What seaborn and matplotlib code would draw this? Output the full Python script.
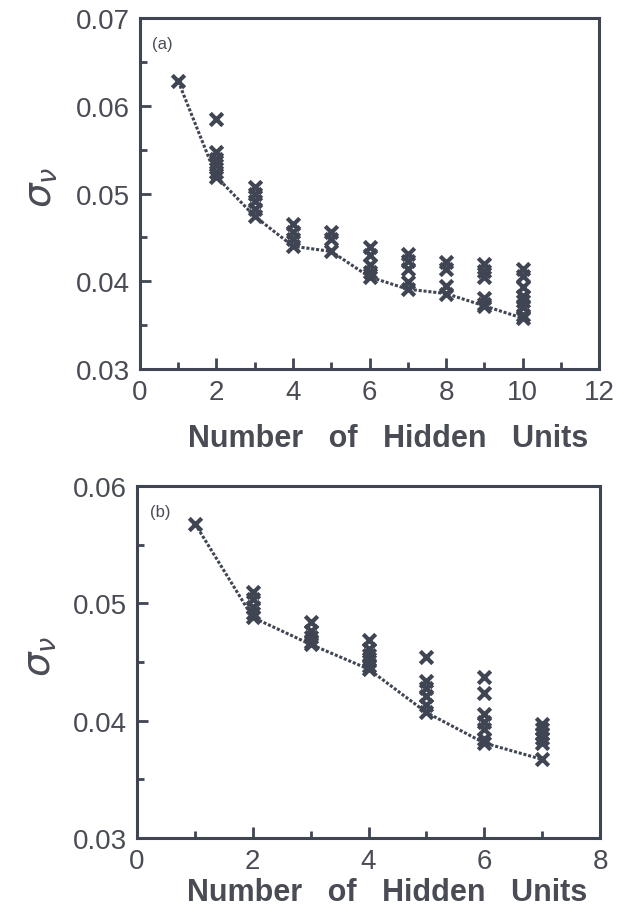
import numpy as np
import pandas as pd
import seaborn as sns
import matplotlib.pyplot as plt
from matplotlib.ticker import MultipleLocator

# panel (a): every trained network, grouped by number of hidden units
units_a = [1,
           2, 2, 2, 2, 2, 2,
           3, 3, 3, 3, 3,
           4, 4, 4, 4,
           5, 5, 5,
           6, 6, 6, 6, 6,
           7, 7, 7, 7, 7,
           8, 8, 8, 8,
           9, 9, 9, 9, 9, 9,
           10, 10, 10, 10, 10, 10, 10, 10]
sigma_a = [0.0628,
           0.0585, 0.0547, 0.0539, 0.0532, 0.0525, 0.0519,
           0.0507, 0.0499, 0.0491, 0.0482, 0.0474,
           0.0465, 0.0456, 0.0448, 0.0440,
           0.0456, 0.0448, 0.0434,
           0.0439, 0.0430, 0.0418, 0.0411, 0.0405,
           0.0431, 0.0423, 0.0414, 0.0399, 0.0391,
           0.0422, 0.0414, 0.0395, 0.0386,
           0.0420, 0.0412, 0.0405, 0.0381, 0.0374, 0.0372,
           0.0414, 0.0406, 0.0393, 0.0383, 0.0378, 0.0371, 0.0362, 0.0358]
best_units_a = [1, 2, 3, 4, 5, 6, 7, 8, 9, 10]
best_sigma_a = [0.0628, 0.0519, 0.0474, 0.0440, 0.0434, 0.0405, 0.0391, 0.0386, 0.0372, 0.0358]

# panel (b)
units_b = [1,
           2, 2, 2, 2, 2,
           3, 3, 3, 3, 3,
           4, 4, 4, 4, 4, 4,
           5, 5, 5, 5, 5, 5,
           6, 6, 6, 6, 6, 6, 6,
           7, 7, 7, 7, 7, 7]
sigma_b = [0.0568,
           0.0510, 0.0504, 0.0497, 0.0492, 0.0488,
           0.0484, 0.0476, 0.0471, 0.0467, 0.0465,
           0.0469, 0.0461, 0.0456, 0.0451, 0.0447, 0.0444,
           0.0454, 0.0434, 0.0428, 0.0421, 0.0413, 0.0407,
           0.0437, 0.0424, 0.0406, 0.0399, 0.0393, 0.0384, 0.0381,
           0.0397, 0.0393, 0.0389, 0.0385, 0.0381, 0.0367]
best_units_b = [1, 2, 3, 4, 5, 6, 7]
best_sigma_b = [0.0568, 0.0488, 0.0465, 0.0444, 0.0407, 0.0381, 0.0367]

INK = '#3f4552'
TXT = '#4a4c55'


def draw_panel(ax, units, sigma, best_units, best_sigma, xmax, ymax, tag):
    pts = pd.DataFrame({'units': units, 'sigma': sigma})
    best = pd.DataFrame({'units': best_units, 'sigma': best_sigma})
    sns.lineplot(data=best, x='units', y='sigma', ax=ax, color=INK,
                 linestyle=(0, (1, 0.6)), linewidth=2.2)
    sns.scatterplot(data=pts, x='units', y='sigma', ax=ax, marker='x',
                    s=80, color=INK, linewidth=3, zorder=3)
    ax.set_xlim(0, xmax)
    ax.set_ylim(0.03, ymax)
    ax.xaxis.set_major_locator(MultipleLocator(2))
    ax.xaxis.set_minor_locator(MultipleLocator(1))
    ax.yaxis.set_major_locator(MultipleLocator(0.01))
    ax.yaxis.set_minor_locator(MultipleLocator(0.005))
    ax.yaxis.set_major_formatter(lambda v, p: f'{v:.2f}')
    ax.tick_params(which='both', direction='in', top=False, right=False,
                   color=INK, width=2, labelsize=20, labelcolor=TXT)
    ax.tick_params(which='major', length=8, pad=7)
    ax.tick_params(which='minor', length=5)
    for sp in ax.spines.values():
        sp.set_linewidth(2.2)
        sp.set_color(INK)
    ax.set_xlabel('Number   of   Hidden   Units', fontsize=22, fontweight='bold',
                  color=TXT)
    ax.set_ylabel(r'$\sigma_\nu$', fontsize=28, color=TXT)
    ax.text(0.027, 0.95, tag, transform=ax.transAxes, fontsize=12,
            color=TXT, va='top', ha='left')


sns.set_theme(style="ticks")
plt.rcParams['font.family'] = ['Liberation Sans', 'DejaVu Sans']
plt.rcParams['mathtext.fontset'] = 'dejavusans'

fig = plt.figure(figsize=(6.18, 9.2), dpi=100)
ax_a = fig.add_axes([0.2265, 0.5978, 0.7428, 0.3815])
ax_b = fig.add_axes([0.2217, 0.0880, 0.7492, 0.3827])

draw_panel(ax_a, units_a, sigma_a, best_units_a, best_sigma_a, 12, 0.07, '(a)')
draw_panel(ax_b, units_b, sigma_b, best_units_b, best_sigma_b, 8, 0.06, '(b)')

ax_a.xaxis.set_label_coords(0.54, -0.155)
ax_a.yaxis.set_label_coords(-0.175, 0.52)
ax_b.xaxis.set_label_coords(0.54, -0.11)
ax_b.yaxis.set_label_coords(-0.168, 0.52)

fig.savefig('out.png', dpi=100)
